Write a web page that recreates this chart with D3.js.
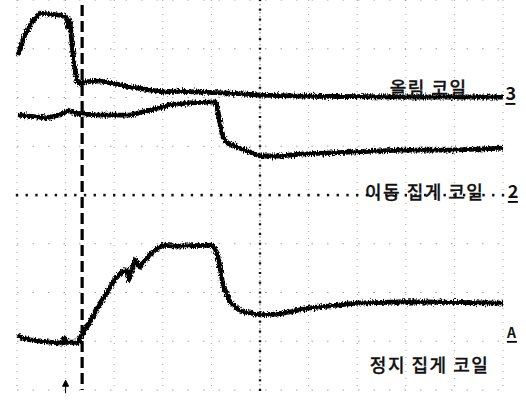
<!DOCTYPE html>
<html>
<head>
<meta charset="utf-8">
<script src="https://cdn.jsdelivr.net/npm/d3@7"></script>
<style>
  html, body { margin: 0; padding: 0; background: #fff; }
  svg { display: block; }
  text { font-family: "Noto Sans CJK KR", "Noto Sans", sans-serif; fill: #111; }
</style>
</head>
<body>
<div id="scope"></div>
<script>
// time in divisions, level in divisions (centre line = 0)
const liftTime  = [0.02, 0.16, 0.31, 0.47, 0.68, 0.88, 1.01, 1.05, 1.09, 1.13, 1.17, 1.23, 1.30, 1.40, 1.71, 2.02, 2.33, 2.74, 3.05, 3.25, 3.77, 4.38, 5.0, 5.82, 7.88, 10.0];
const liftLevel = [2.87, 3.28, 3.55, 3.73, 3.71, 3.69, 3.65, 3.45, 3.59, 3.12, 2.73, 2.36, 2.28, 2.32, 2.34, 2.28, 2.22, 2.15, 2.11, 2.13, 2.11, 2.09, 2.05, 2.03, 2.01, 2.01];

const moveTime  = [0.02, 0.27, 0.58, 0.78, 0.93, 1.05, 1.19, 1.40, 1.71, 2.12, 2.33, 2.74, 3.15, 3.56, 4.09, 4.14, 4.18, 4.24, 4.32, 4.59, 5.0, 5.41, 5.82, 6.85, 7.88, 8.91, 10.0];
const moveLevel = [1.64, 1.62, 1.58, 1.62, 1.66, 1.74, 1.68, 1.66, 1.64, 1.64, 1.64, 1.74, 1.85, 1.89, 1.91, 1.70, 1.44, 1.19, 1.07, 0.96, 0.80, 0.80, 0.84, 0.88, 0.92, 0.92, 0.96];

const holdTime  = [0.02, 0.10, 0.27, 0.68, 0.93, 0.97, 1.01, 1.26, 1.30, 1.50, 1.71, 2.02, 2.16, 2.26, 2.30, 2.43, 2.53, 2.74, 3.00, 3.25, 4.03, 4.09, 4.16, 4.24, 4.38, 4.59, 5.0, 5.41, 5.99, 6.98, 8.00, 10.0];
const holdLevel = [-2.87, -2.93, -2.97, -3.02, -3.04, -2.93, -3.02, -3.02, -2.93, -2.61, -2.22, -1.72, -1.58, -1.54, -1.74, -1.33, -1.48, -1.21, -1.03, -1.05, -1.03, -1.13, -1.37, -1.85, -2.19, -2.38, -2.46, -2.44, -2.32, -2.22, -2.19, -2.22];

const traceNames  = ["올림 코일", "이동 집게 코일", "정지 집게 코일"];
const channelTags = ["3", "2", "A"];
const cursorTime  = 1.34;
const triggerTime = 1.0;

const width = 526, height = 401;
const x = d3.scaleLinear().domain([0, 10]).range([17, 503]);
const y = d3.scaleLinear().domain([-4, 4]).range([390, 0]);

const svg = d3.select("#scope").append("svg")
  .attr("width", width)
  .attr("height", height);

// jagged look of the scope trace
const defs = svg.append("defs");
const f = defs.append("filter").attr("id", "rough")
  .attr("filterUnits", "userSpaceOnUse")
  .attr("x", 0).attr("y", 0).attr("width", width).attr("height", height);
f.append("feTurbulence").attr("type", "fractalNoise").attr("baseFrequency", "0.9 0.45")
  .attr("numOctaves", 2).attr("seed", 7).attr("result", "n");
f.append("feDisplacementMap").attr("in", "SourceGraphic").attr("in2", "n")
  .attr("scale", 6).attr("xChannelSelector", "R").attr("yChannelSelector", "G");

// grid
const grid = svg.append("g");
grid.selectAll(".vl")
  .data(x.ticks(10).filter(d => d !== 5))
  .join("line")
  .attr("x1", d => x(d)).attr("x2", d => x(d))
  .attr("y1", y(4)).attr("y2", y(-4))
  .attr("stroke", "#333").attr("stroke-width", 1)
  .attr("stroke-dasharray", "1,6").attr("opacity", 0.45);

grid.selectAll(".hl")
  .data(y.ticks(8).filter(d => d !== 0))
  .join("line")
  .attr("x1", x(0)).attr("x2", x(10))
  .attr("y1", d => y(d)).attr("y2", d => y(d))
  .attr("stroke", "#333").attr("stroke-width", 1)
  .attr("stroke-dasharray", "1.5,14").attr("opacity", 0.45);

// centre cross with minor ticks
grid.append("line")
  .attr("x1", x(5)).attr("x2", x(5)).attr("y1", y(4)).attr("y2", y(-4))
  .attr("stroke", "#222").attr("stroke-dasharray", "1.5,2.5").attr("opacity", 0.65);

grid.selectAll(".hm")
  .data(d3.range(0, 10.01, 0.2))
  .join("rect")
  .attr("x", d => x(d) - 1.2).attr("y", y(0) - 1.2)
  .attr("width", 2.4).attr("height", 2.6)
  .attr("fill", "#111");

grid.selectAll(".vm")
  .data(d3.range(-4, 4.01, 0.2))
  .join("rect")
  .attr("x", x(5) - 1.2).attr("y", d => y(d) - 1)
  .attr("width", 2.4).attr("height", 2)
  .attr("fill", "#111");

// cursor
svg.append("line")
  .attr("x1", x(cursorTime)).attr("x2", x(cursorTime))
  .attr("y1", 5).attr("y2", y(-4))
  .attr("stroke", "#000").attr("stroke-width", 3.2)
  .attr("stroke-dasharray", "11,5");

// trigger arrow
const tx = x(triggerTime);
svg.append("path")
  .attr("d", `M${tx},${y(-3.8)} l-3,6 l6,0 z M${tx},${y(-3.8) + 5} v8`)
  .attr("stroke", "#000").attr("stroke-width", 1).attr("fill", "#000");

// traces
const line = d3.line().x(d => x(d[0])).y(d => y(d[1]));
const traces = [
  d3.zip(liftTime, liftLevel),
  d3.zip(moveTime, moveLevel),
  d3.zip(holdTime, holdLevel)
];
const traceG = svg.append("g");
// solid core plus a rough outer band
traceG.selectAll(".core")
  .data(traces)
  .join("path")
  .attr("d", line)
  .attr("fill", "none")
  .attr("stroke", "#000")
  .attr("stroke-width", 2.4)
  .attr("stroke-linejoin", "round");
traceG.append("g").attr("filter", "url(#rough)")
  .selectAll("path")
  .data(traces)
  .join("path")
  .attr("d", line)
  .attr("fill", "none")
  .attr("stroke", "#000")
  .attr("stroke-width", 4.8)
  .attr("stroke-linejoin", "round");

// labels
const labelPos = [[7.67, 2.05], [7.16, -0.08], [7.26, -3.63]];
svg.selectAll(".name")
  .data(traceNames)
  .join("text")
  .attr("x", (d, i) => x(labelPos[i][0]))
  .attr("y", (d, i) => y(labelPos[i][1]))
  .attr("font-size", 18)
  .attr("font-weight", 500)
  .attr("letter-spacing", 1.5)
  .attr("stroke", "#111").attr("stroke-width", 0.3)
  .text(d => d);

const tagPos = [[10.05, 1.95], [10.1, -0.06], [10.08, -2.93]];
const tags = svg.selectAll(".tag")
  .data(channelTags)
  .join("g")
  .attr("transform", (d, i) => `translate(${x(tagPos[i][0])},${y(tagPos[i][1])})`);
tags.append("text")
  .attr("font-size", (d, i) => i === 2 ? 14 : 18)
  .attr("font-weight", "bold")
  .text(d => d);
tags.append("line")
  .attr("x1", 0).attr("x2", 10).attr("y1", 4).attr("y2", 4)
  .attr("stroke", "#000").attr("stroke-width", 1.8);
</script>
</body>
</html>
